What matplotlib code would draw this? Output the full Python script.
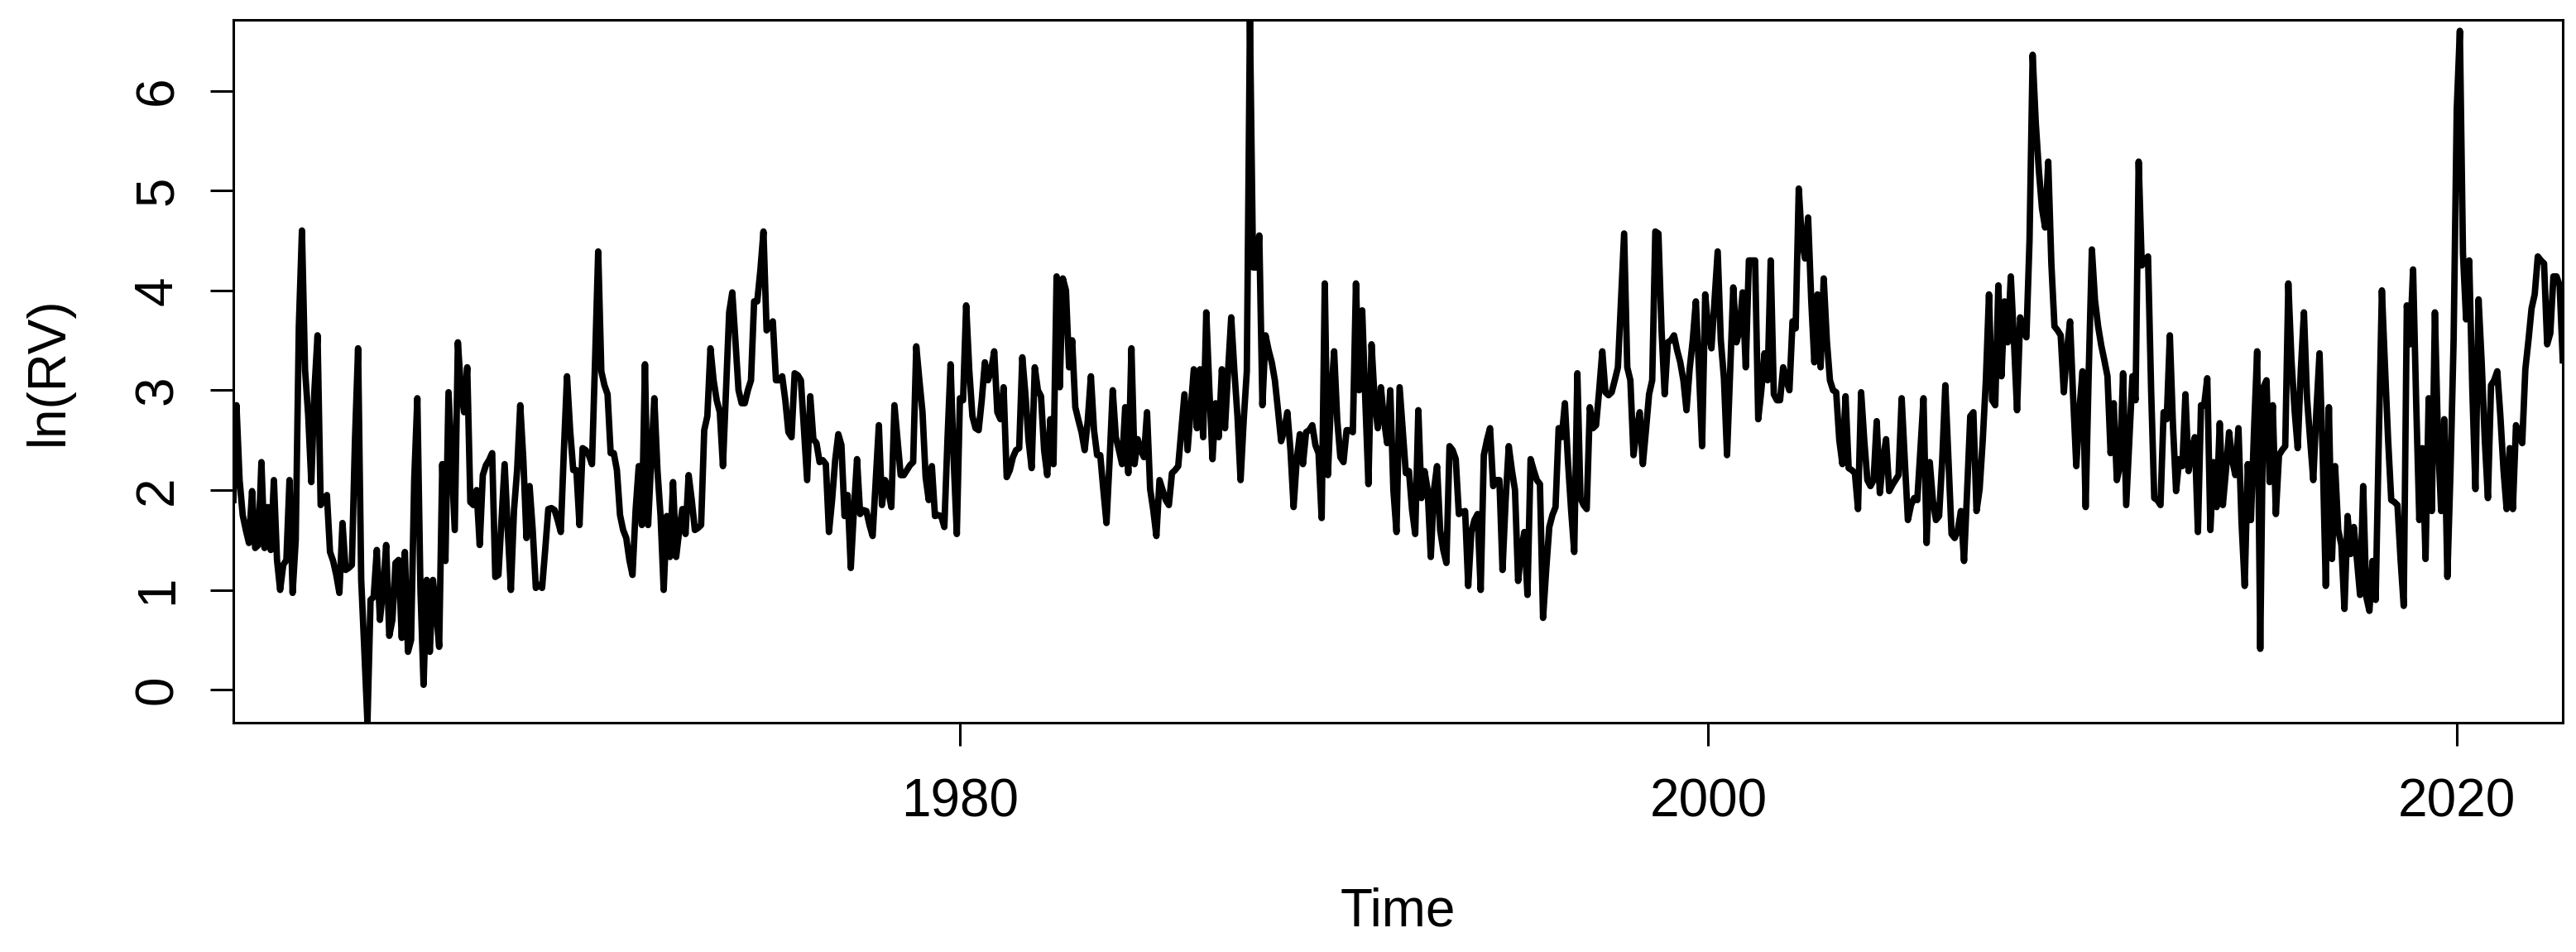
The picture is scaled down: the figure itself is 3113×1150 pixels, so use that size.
import numpy as np
import matplotlib
matplotlib.use("Agg")
import matplotlib.pyplot as plt

plt.rcParams["font.family"] = ["Liberation Sans", "DejaVu Sans"]

# monthly ln(RV), first month = Aug 1960
start_year = 1960 + 7 / 12.0

rv_1960s = [
    1.9, 2.85, 2.1, 1.75, 1.6, 1.47, 1.99, 1.42, 1.45, 2.28, 1.42, 1.83,
    1.4, 2.1, 1.3, 1.0, 1.25, 1.3, 2.1, 0.97, 1.5, 3.64, 4.6, 3.2,
    2.75, 2.08, 3.0, 3.55, 1.85, 1.9, 1.95, 1.38, 1.29, 1.15, 0.97, 1.67,
    1.2, 1.22, 1.25, 2.5, 3.42, 1.1, 0.4, -0.33, 0.9, 0.93, 1.4, 0.7,
    1.0, 1.45, 0.54, 0.7, 1.27, 1.3, 0.52, 1.38, 0.38, 0.5, 2.1, 2.92,
    1.0, 0.05, 1.1, 0.38, 1.1, 0.8, 0.43, 2.26, 1.29, 2.98, 2.3, 1.6,
    3.48, 3.0, 2.78, 3.23, 1.88, 1.85, 2.0, 1.45, 2.15, 2.25, 2.3, 2.37,
    1.13, 1.15, 1.7, 2.26, 1.6, 1.0, 1.8, 2.2, 2.85, 2.3, 1.52, 2.04,
    1.6, 1.02, 1.05, 1.02, 1.4, 1.81, 1.82, 1.8, 1.7, 1.58, 2.4, 3.14,
    2.6, 2.2, 2.2, 1.65, 2.42, 2.4, 2.35, 2.26, 3.3, 4.39, 3.19, 3.05,
]
rv_1970s = [
    2.96, 2.37, 2.37, 2.2, 1.75, 1.6, 1.52, 1.3, 1.15, 1.8, 2.24, 1.65,
    3.26, 1.65, 2.3, 2.92, 2.2, 1.74, 1.0, 1.74, 1.33, 2.08, 1.33, 1.6,
    1.81, 1.56, 2.15, 1.9, 1.6, 1.62, 1.65, 2.6, 2.74, 3.42, 3.1, 2.9,
    2.78, 2.24, 3.0, 3.78, 3.98, 3.5, 3.0, 2.87, 2.87, 3.0, 3.1, 3.89,
    3.89, 4.2, 4.59, 3.6, 3.65, 3.69, 3.1, 3.1, 3.14, 2.9, 2.58, 2.53,
    3.17, 3.15, 3.1, 2.6, 2.1, 2.94, 2.51, 2.47, 2.28, 2.3, 2.26, 1.58,
    1.9, 2.3, 2.56, 2.45, 1.74, 1.95, 1.22, 1.8, 2.31, 1.76, 1.8, 1.79,
    1.65, 1.54, 2.1, 2.65, 1.85, 2.1, 2.0, 1.83, 2.85, 2.5, 2.15, 2.15,
    2.2, 2.25, 2.28, 3.44, 3.1, 2.78, 2.13, 1.9, 2.24, 1.74, 1.75, 1.74,
    1.63, 2.5, 3.26, 2.3, 1.56, 2.92, 2.9, 3.85, 3.2, 2.74, 2.62, 2.6,
]
rv_1980s = [
    2.9, 3.28, 3.1, 3.2, 3.39, 2.78, 2.71, 3.03, 2.13, 2.2, 2.33, 2.4,
    2.42, 3.33, 2.96, 2.5, 2.22, 3.23, 3.0, 2.94, 2.4, 2.15, 2.71, 2.26,
    4.14, 3.03, 4.12, 4.0, 3.23, 3.5, 2.83, 2.7, 2.58, 2.4, 2.7, 3.14,
    2.6, 2.35, 2.35, 2.0, 1.67, 2.3, 3.0, 2.53, 2.4, 2.26, 2.83, 2.17,
    3.42, 2.26, 2.51, 2.4, 2.33, 2.78, 2.01, 1.8, 1.54, 2.1, 2.0, 1.9,
    1.85, 2.17, 2.2, 2.24, 2.6, 2.96, 2.4, 2.8, 3.21, 2.62, 3.21, 2.53,
    3.78, 3.0, 2.31, 2.87, 2.53, 3.21, 2.62, 3.2, 3.73, 3.2, 2.74, 2.1,
    2.7, 3.19, 6.71, 4.23, 4.23, 4.55, 2.85, 3.55, 3.4, 3.28, 3.1, 2.8,
    2.49, 2.6, 2.78, 2.4, 1.83, 2.3, 2.56, 2.26, 2.58, 2.6, 2.65, 2.45,
    2.37, 1.72, 4.07, 2.15, 2.9, 3.39, 2.7, 2.33, 2.28, 2.6, 2.6, 2.58,
]
rv_1990s = [
    4.07, 3.0, 3.8, 2.9, 2.06, 3.46, 2.9, 2.62, 3.03, 2.7, 2.47, 3.0,
    2.0, 1.58, 3.03, 2.6, 2.17, 2.19, 1.8, 1.56, 2.8, 1.92, 2.19, 2.0,
    1.33, 2.0, 2.24, 1.6, 1.4, 1.27, 2.44, 2.4, 2.31, 1.76, 1.78, 1.79,
    1.04, 1.58, 1.7, 1.76, 1.0, 2.35, 2.5, 2.62, 2.04, 2.1, 2.1, 1.2,
    1.9, 2.44, 2.2, 2.0, 1.09, 1.4, 1.58, 0.95, 2.31, 2.2, 2.1, 2.06,
    0.72, 1.2, 1.63, 1.75, 1.83, 2.62, 2.53, 2.87, 2.28, 1.8, 1.38, 3.17,
    1.92, 1.85, 1.81, 2.83, 2.62, 2.65, 3.0, 3.39, 2.98, 2.95, 2.98, 3.1,
    3.23, 3.9, 4.57, 3.23, 3.1, 2.35, 2.6, 2.78, 2.26, 2.6, 2.96, 3.1,
    4.59, 4.57, 3.6, 2.96, 3.48, 3.5, 3.55, 3.4, 3.28, 3.1, 2.8, 3.21,
    3.5, 3.89, 3.2, 2.44, 3.96, 3.6, 3.42, 3.9, 4.39, 3.5, 3.12, 2.35,
]
rv_2000s = [
    3.2, 4.03, 3.48, 3.6, 3.98, 3.23, 4.3, 4.3, 4.3, 2.71, 3.0, 3.37,
    3.1, 4.3, 2.96, 2.9, 2.9, 3.23, 3.1, 3.0, 3.69, 3.62, 5.02, 4.5,
    4.32, 4.73, 3.9, 3.28, 3.96, 3.23, 4.12, 3.5, 3.1, 3.0, 2.98, 2.5,
    2.26, 2.94, 2.22, 2.2, 2.17, 1.81, 2.98, 2.5, 2.1, 2.04, 2.1, 2.69,
    1.97, 2.3, 2.51, 1.99, 2.05, 2.1, 2.15, 2.92, 2.3, 1.7, 1.85, 1.92,
    1.9, 2.4, 2.92, 1.47, 2.28, 1.9, 1.7, 1.74, 2.3, 3.05, 2.3, 1.56,
    1.52, 1.6, 1.79, 1.29, 2.0, 2.74, 2.78, 1.79, 2.01, 2.5, 3.1, 3.96,
    2.9, 2.85, 4.05, 3.14, 3.89, 3.48, 4.14, 3.5, 2.8, 3.73, 3.6, 3.53,
    4.5, 6.36, 5.68, 5.2, 4.82, 4.63, 5.29, 4.27, 3.64, 3.6, 3.55, 2.98,
    3.4, 3.69, 2.92, 2.24, 2.8, 3.19, 1.83, 3.2, 4.41, 3.9, 3.64, 3.45,
]
rv_2010s = [
    3.3, 3.14, 2.37, 2.87, 2.1, 2.24, 3.17, 1.85, 2.5, 3.14, 2.9, 5.29,
    4.25, 4.3, 4.34, 3.0, 1.92, 1.9, 1.85, 2.78, 2.71, 3.55, 2.65, 1.99,
    2.31, 2.24, 2.96, 2.19, 2.4, 2.53, 1.58, 2.85, 2.85, 3.12, 1.6, 2.28,
    1.83, 2.67, 1.85, 2.2, 2.58, 2.3, 2.15, 2.62, 1.67, 1.04, 2.26, 1.7,
    2.6, 3.39, 0.41, 3.03, 3.1, 2.08, 2.85, 1.76, 2.35, 2.4, 2.44, 4.07,
    3.3, 2.8, 2.42, 3.2, 3.78, 2.92, 2.5, 2.1, 2.8, 3.37, 2.37, 1.04,
    2.83, 1.31, 2.24, 1.6, 1.45, 0.81, 1.74, 1.36, 1.63, 1.3, 0.95, 2.04,
    0.93, 0.79, 1.29, 0.9, 2.5, 4.0, 3.23, 2.5, 1.9, 1.88, 1.85, 1.3,
    0.84, 3.85, 3.46, 4.21, 2.87, 1.7, 2.42, 1.31, 2.92, 1.79, 3.78, 2.5,
    1.79, 2.71, 1.13, 2.19, 3.5, 5.81, 6.6, 4.37, 3.71, 4.3, 3.0, 2.01,
]
rv_2020s = [
    3.91, 3.28, 2.5, 1.92, 3.05, 3.1, 3.19, 2.74, 2.2, 1.81, 2.42, 1.81,
    2.65, 2.55, 2.47, 3.21, 3.5, 3.82, 3.96, 4.34, 4.3, 4.27, 3.46, 3.57,
    4.14, 4.14, 4.05, 3.3,
]

x_ticks = [1980, 2000, 2020]
y_ticks = [0, 1, 2, 3, 4, 5, 6]

ln_rv = np.array(rv_1960s + rv_1970s + rv_1980s + rv_1990s
                 + rv_2000s + rv_2010s + rv_2020s)
t = start_year + np.arange(len(ln_rv)) / 12.0

fig = plt.figure(figsize=(15.565, 5.75), dpi=200)
ax = fig.add_axes([282 / 3113, 1 - 873 / 1150,
                   (3097 - 282) / 3113, (873 - 24) / 1150])

ax.plot(t, ln_rv, color="black", lw=2.8, solid_joinstyle="round")

# R style: axes span exactly the data range
ax.set_xlim(t[0], t[-1])
ax.set_ylim(ln_rv.min(), ln_rv.max())
ax.set_xticks(x_ticks)
ax.set_yticks(y_ticks)

for sp in ax.spines.values():
    sp.set_linewidth(1.1)
ax.tick_params(length=10, width=1.1, labelsize=23)
ax.tick_params(axis="x", pad=14)
ax.tick_params(axis="y", pad=12, labelrotation=90)
plt.setp(ax.get_yticklabels(), va="center")

ax.set_xlabel("Time", fontsize=23, labelpad=26)
ax.set_ylabel("ln(RV)", fontsize=23, labelpad=26)

fig.savefig("out.png", dpi=200)
